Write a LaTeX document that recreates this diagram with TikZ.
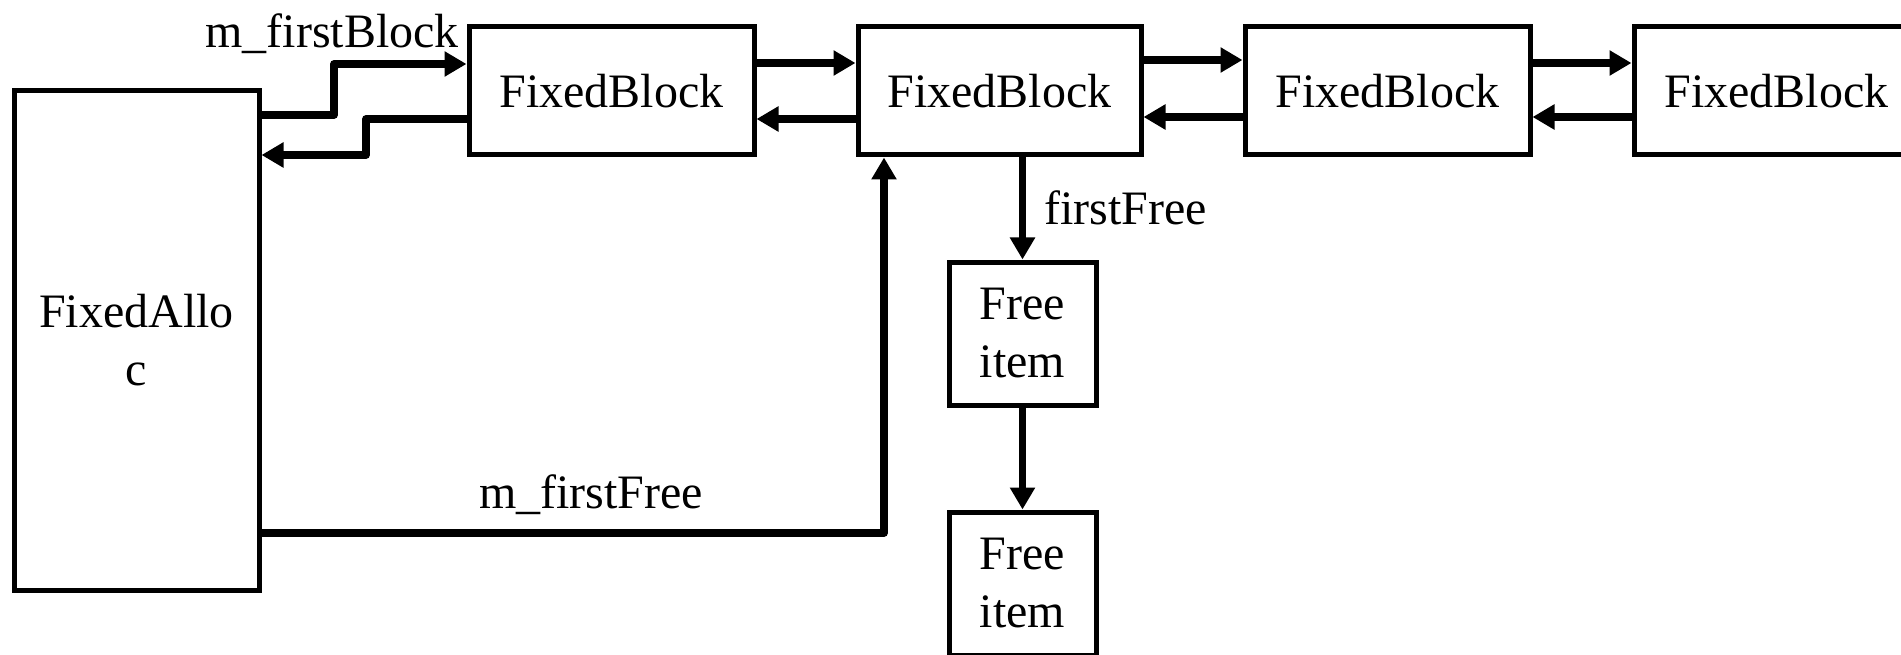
\documentclass[tikz,border=0pt]{standalone}
\usepackage{fontspec}
\setmainfont{Liberation Serif}
\usetikzlibrary{arrows.meta}
\begin{document}
\begin{tikzpicture}[x=1pt,y=-1pt,
  box/.style={draw, line width=5pt, inner sep=0pt, align=center,
              font=\fontsize{48}{58}\selectfont},
  blockbox/.style={box, minimum width=285pt, minimum height=128pt},
  itembox/.style={box, minimum width=147pt, minimum height=143pt},
  link/.style={line width=7.5pt, line join=round, -{Triangle[length=22pt,width=24pt]}},
  lbl/.style={inner sep=0pt, font=\fontsize{48}{58}\selectfont}]
\useasboundingbox (0,0) rectangle (1901,655);
\clip (0,0) rectangle (1901,655);

% allocator and the chain of blocks
\node[box, minimum width=245pt, minimum height=499pt] (alloc) at (136.5,340.5) {FixedAllo\\c};
\node[blockbox] (b1) at (611.5,91) {FixedBlock};
\node[blockbox, minimum width=283pt] (b2) at (999.5,91) {FixedBlock};
\node[blockbox] (b3) at (1387.5,91) {FixedBlock};
\node[blockbox] (b4) at (1776.5,91) {FixedBlock};

% free list of the second block
\node[itembox] (f1) at (1022.5,333.5) {Free\\item};
\node[itembox] (f2) at (1022.5,583.5) {Free\\item};

% bend points of the allocator links
\coordinate (k1) at (334,115);
\coordinate (k2) at (334,64);
\coordinate (k3) at (366,119);
\coordinate (k4) at (366,155);
\coordinate (k5) at (884,533);

% allocator <-> first block
\draw[link] (alloc.east |- k1) -- (k1) -- (k2) -- (b1.west |- k2);
\draw[link] (b1.west |- k3) -- (k3) -- (k4) -- (alloc.east |- k4);
\node[lbl, anchor=base east] (lfb) at (459,48) {m\_firstBlock};

% doubly linked blocks
\draw[link] ([yshift=28pt]b1.east) -- ([yshift=28pt]b2.west);
\draw[link] ([yshift=-28pt]b2.west) -- ([yshift=-28pt]b1.east);
\draw[link] ([yshift=31pt]b2.east) -- ([yshift=31pt]b3.west);
\draw[link] ([yshift=-26pt]b3.west) -- ([yshift=-26pt]b2.east);
\draw[link] ([yshift=28pt]b3.east) -- ([yshift=28pt]b4.west);
\draw[link] ([yshift=-26pt]b4.west) -- ([yshift=-26pt]b3.east);

% free items
\draw[link] (f1.north |- b2.south) -- (f1.north);
\node[lbl, anchor=base west] (lff) at (1044,225) {firstFree};
\draw[link] (f1.south) -- (f2.north);

% allocator's first free pointer
\draw[link] (alloc.east |- k5) -- (k5) -- (k5 |- b2.south);
\node[lbl, anchor=base] (lmf) at (591,508) {m\_firstFree};
\end{tikzpicture}
\end{document}
